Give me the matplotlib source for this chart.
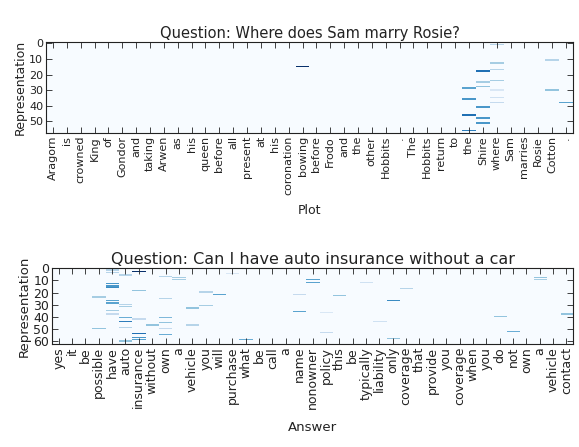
import numpy as np
import matplotlib
matplotlib.use('Agg')
import matplotlib.pyplot as plt

# words along the x axis
plot_words = ['Aragorn', 'is', 'crowned', 'King', 'of', 'Gondor', 'and', 'taking', 'Arwen', 'as',
              'his', 'queen', 'before', 'all', 'present', 'at', 'his', 'coronation', 'bowing', 'before',
              'Frodo', 'and', 'the', 'other', 'Hobbits', '.', 'The', 'Hobbits', 'return', 'to',
              'the', 'Shire', 'where', 'Sam', 'marries', 'Rosie', 'Cotton', '.']
answer_words = ['yes', 'it', 'be', 'possible', 'have', 'auto', 'insurance', 'without', 'own', 'a',
                'vehicle', 'you', 'will', 'purchase', 'what', 'be', 'call', 'a', 'name', 'nonowner',
                'policy', 'this', 'be', 'typically', 'liability', 'only', 'coverage', 'that', 'provide', 'you',
                'coverage', 'when', 'you', 'do', 'not', 'own', 'a', 'vehicle', 'contact']

top_nrows = 58
bot_nrows = 63

# non-zero cells (representation row, word column, weight)
top_rows = [15, 29, 36, 46, 56, 18, 25, 28, 41, 48, 51, 1, 13, 17, 24, 30, 35, 38, 11, 30, 38]
top_cols = [18, 30, 30, 30, 30, 31, 31, 31, 31, 31, 31, 32, 32, 32, 32, 32, 32, 32, 36, 36, 37]
top_vals = [1.0, 0.55, 0.6, 0.75, 0.7, 0.75, 0.35, 0.4, 0.6, 0.6, 0.6, 0.3, 0.35, 0.3, 0.35, 0.15, 0.2, 0.25,
            0.3, 0.4, 0.55]

bot_rows = [24, 50,
            2, 4, 13, 15, 16, 27, 29, 35, 38,
            0, 6, 30, 32, 41, 44, 49, 60,
            3, 19, 42, 54, 57, 59,
            47,
            7, 25, 41, 45, 50, 55,
            8, 10,
            33, 47,
            20, 31,
            22, 5, 59,
            22, 36,
            10, 12,
            37, 53,
            0, 23,
            12, 44,
            27, 58,
            17, 40, 52,
            8, 10, 38]
bot_cols = [3, 3,
            4, 4, 4, 4, 4, 4, 4, 4, 4,
            5, 5, 5, 5, 5, 5, 5, 5,
            6, 6, 6, 6, 6, 6,
            7,
            8, 8, 8, 8, 8, 8,
            9, 9,
            10, 10,
            11, 11,
            12, 13, 14,
            18, 18,
            19, 19,
            20, 20,
            21, 21,
            23, 24,
            25, 25,
            26, 33, 34,
            36, 36, 38]
bot_vals = [0.35, 0.4,
            0.3, 0.3, 0.6, 0.6, 0.65, 0.55, 0.55, 0.35, 0.25,
            0.2, 0.3, 0.3, 0.35, 0.5, 0.7, 0.3, 0.4,
            1.0, 0.4, 0.25, 0.75, 0.6, 0.55,
            0.4,
            0.3, 0.3, 0.45, 0.4, 0.25, 0.5,
            0.35, 0.35,
            0.4, 0.3,
            0.3, 0.35,
            0.55, 0.15, 0.5,
            0.25, 0.55,
            0.55, 0.55,
            0.15, 0.25,
            0.3, 0.4,
            0.2, 0.2,
            0.65, 0.4,
            0.3, 0.4, 0.5,
            0.4, 0.35, 0.4]

top = np.zeros((top_nrows, len(plot_words)))
top[top_rows, top_cols] = top_vals
bot = np.zeros((bot_nrows, len(answer_words)))
bot[bot_rows, bot_cols] = bot_vals

fig = plt.figure(figsize=(5.79, 4.47), dpi=100)


def draw(ax, data, words, title, xlabel, yticks, tfs, fs, lfs, xpad):
    ax.imshow(data, cmap='Blues', vmin=0, vmax=1, aspect='auto', interpolation='nearest')
    ax.set_xticks(range(len(words)))
    ax.set_xticklabels(words, rotation=90, fontsize=fs)
    ax.set_yticks(yticks)
    ax.set_yticklabels([str(t) for t in yticks], fontsize=fs)
    ax.tick_params(direction='in', top=True, right=True, length=4, width=0.6, pad=2, colors='#222222')
    ax.set_title(title, fontsize=tfs, pad=3, color='#222222')
    ax.set_xlabel(xlabel, fontsize=lfs, color='#222222', labelpad=xpad)
    ax.set_ylabel('Representation', fontsize=lfs, color='#222222', labelpad=2)
    for s in ax.spines.values():
        s.set_linewidth(0.8)
        s.set_color('#222222')


ax1 = fig.add_axes([0.0795, 0.702, 0.910, 0.203])
draw(ax1, top, plot_words, 'Question: Where does Sam marry Rosie?', 'Plot',
     [0, 10, 20, 30, 40, 50], 10.5, 8, 9, 6)

ax2 = fig.add_axes([0.0898, 0.230, 0.900, 0.171])
draw(ax2, bot, answer_words, 'Question: Can I have auto insurance without a car', 'Answer',
     [0, 10, 20, 30, 40, 50, 60], 11.5, 9, 9.5, 9)

fig.savefig('out.png', dpi=100)
